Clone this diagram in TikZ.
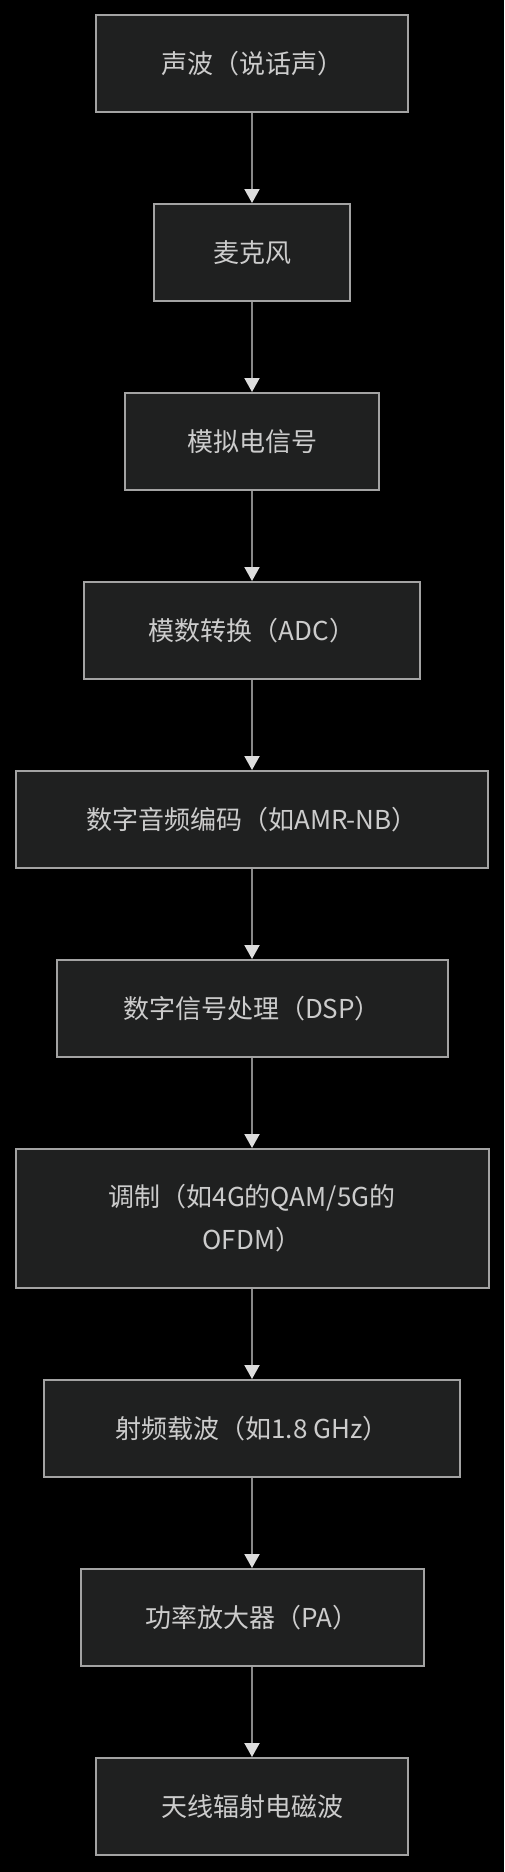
\documentclass[tikz,border=0pt]{standalone}
\usepackage{fontspec}
\setmainfont{Noto Sans CJK SC}
\usetikzlibrary{positioning}
\usetikzlibrary{arrows.meta}
\definecolor{boxfill}{HTML}{1F2020}
\definecolor{boxline}{HTML}{A3A3A3}
\definecolor{flowline}{HTML}{888888}
\definecolor{tipfill}{HTML}{DDDDDD}
\definecolor{labeltext}{HTML}{CCCCCC}

\begin{document}
\begin{tikzpicture}[
x=1pt, y=1pt,
node distance = 90pt,
>={Triangle[length=14pt,width=15pt,color=tipfill]},
stage/.style={rectangle, draw=boxline, fill=boxfill, line width=2pt, minimum height=97pt, inner xsep=4pt, text=labeltext, font=\fontsize{26}{43}\selectfont, align=center},
flow/.style={->, draw=flowline, line width=2pt}]
\fill [black] (0,0) rectangle (504,-1872);
\useasboundingbox (0,0) rectangle (504,-1872);

\node [stage, minimum width=312pt] (wave) at (252,-63.5) {声波（说话声）};
\node [stage, minimum width=196pt] (mic) [below=of wave] {麦克风};
\node [stage, minimum width=254pt] (analog) [below=of mic] {模拟电信号};
\node [stage, minimum width=336pt] (adc) [below=of analog] {模数转换（ADC）};
\node [stage, minimum width=472pt] (codec) [below=of adc] {数字音频编码（如AMR-NB）};
\node [stage, minimum width=391pt] (dsp) [below=of codec] {数字信号处理（DSP）};
\node [stage, minimum width=473pt, minimum height=139pt] (mod) [below=of dsp] {调制（如4G的QAM/5G的\\OFDM）};
\node [stage, minimum width=416pt] (rf) [below=of mod] {射频载波（如1.8 GHz）};
\node [stage, minimum width=343pt] (pa) [below=of rf] {功率放大器（PA）};
\node [stage, minimum width=312pt] (ant) [below=of pa] {天线辐射电磁波};

\draw [flow] (wave) -- (mic);
\draw [flow] (mic) -- (analog);
\draw [flow] (analog) -- (adc);
\draw [flow] (adc) -- (codec);
\draw [flow] (codec) -- (dsp);
\draw [flow] (dsp) -- (mod);
\draw [flow] (mod) -- (rf);
\draw [flow] (rf) -- (pa);
\draw [flow] (pa) -- (ant);
\end{tikzpicture}
\end{document}
